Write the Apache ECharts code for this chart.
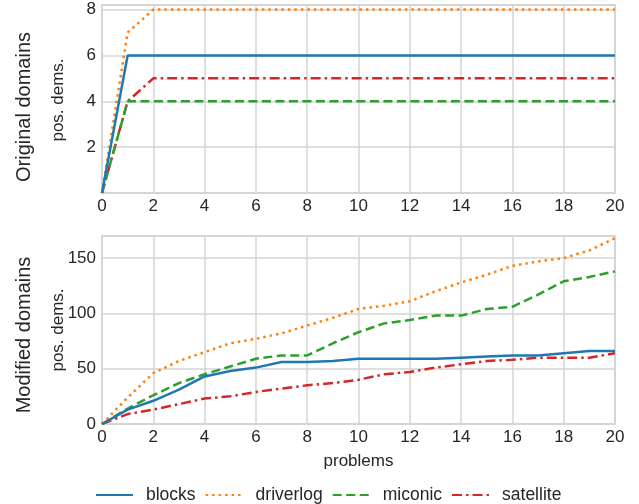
<!doctype html>
<html>
<head>
    <meta charset="utf-8">
    <title>domains</title>
    <script src="https://cdn.jsdelivr.net/npm/echarts@6/dist/echarts.min.js"></script>
    <style>
        body{ margin:0; padding:0; background:#fff; }
        #main{ width:639px; height:504px; }
    </style>
</head>
<body>
<div id="main"></div>
<script>
    // problems 0..20
    var problems = [0,1,2,3,4,5,6,7,8,9,10,11,12,13,14,15,16,17,18,19,20];
    var names = ['blocks', 'driverlog', 'miconic', 'satellite'];

    // original domains
    var origBlocks    = [0,6,6,6,6,6,6,6,6,6,6,6,6,6,6,6,6,6,6,6,6];
    var origDriverlog = [0,7,8,8,8,8,8,8,8,8,8,8,8,8,8,8,8,8,8,8,8];
    var origMiconic   = [0,4,4,4,4,4,4,4,4,4,4,4,4,4,4,4,4,4,4,4,4];
    var origSatellite = [0,4,5,5,5,5,5,5,5,5,5,5,5,5,5,5,5,5,5,5,5];

    // modified domains
    var modBlocks    = [0,13,21,31,43,48,51,56,56,57,59,59,59,59,60,61,62,62,64,66,66];
    var modDriverlog = [0,24,46,57,65,73,77,82,89,96,104,107,111,120,128,135,143,147,150,157,168];
    var modMiconic   = [0,14,26,37,45,52,59,62,62,73,83,91,94,98,98,104,106,117,129,133,138];
    var modSatellite = [0,9,13,18,23,25,29,32,35,37,40,45,47,51,54,57,58,60,60,60,64];

    var xTicks = [0,2,4,6,8,10,12,14,16,18,20];
    var topYTicks = [2,4,6,8];
    var botYTicks = [0,50,100,150];

    var colors = ['#1f77b4', '#ff7f0e', '#2ca02c', '#d62728'];
    var dashes = ['solid', [2.5, 4], [9, 4.5], [10, 4, 2.5, 4]];
    var textColor = '#262626';
    var gridColor = '#d4d4d4';
    var font = 'Liberation Sans, Arial, sans-serif';

    function pairs(ys){
        return problems.map(function(x, i){ return [x, ys[i]]; });
    }

    function tickFmt(list){
        return function(v){
            for (var i = 0; i < list.length; i++) {
                if (Math.abs(list[i] - v) < 1e-6) return String(list[i]);
            }
            return '';
        };
    }

    function xAxis(idx, withName){
        return {
            type: 'value', gridIndex: idx, min: 0, max: 20, interval: 2,
            name: withName ? 'problems' : '',
            nameLocation: 'middle', nameGap: 29,
            nameTextStyle: { color: textColor, fontSize: 17, fontFamily: font },
            axisLine: { show: false }, axisTick: { show: false },
            axisLabel: { color: textColor, fontSize: 17, fontFamily: font, margin: 5, formatter: tickFmt(xTicks) },
            splitLine: { show: true, lineStyle: { color: gridColor, width: 1.5 } }
        };
    }

    function yAxis(idx, max, interval, ticks){
        return {
            type: 'value', gridIndex: idx, min: 0, max: max, interval: interval,
            axisLine: { show: false }, axisTick: { show: false },
            axisLabel: { color: textColor, fontSize: 17, fontFamily: font, margin: 6, formatter: tickFmt(ticks),
                showMaxLabel: true, showMinLabel: true },
            splitLine: { show: true, lineStyle: { color: gridColor, width: 1.5 } }
        };
    }

    var seriesData = [
        [origBlocks, origDriverlog, origMiconic, origSatellite],
        [modBlocks, modDriverlog, modMiconic, modSatellite]
    ];
    var series = [];
    for (var g = 0; g < 2; g++) {
        for (var s = 0; s < 4; s++) {
            series.push({
                name: names[s], type: 'line', xAxisIndex: g, yAxisIndex: g,
                data: pairs(seriesData[g][s]),
                symbol: 'none', animation: false, z: 10 - s,
                lineStyle: { color: colors[s], width: 2.5, type: dashes[s], cap: 'butt' },
                itemStyle: { color: colors[s] }
            });
        }
    }

    function vText(txt, x, y, size){
        return {
            type: 'text', x: x, y: y, rotation: Math.PI / 2,
            style: { text: txt, fill: textColor, fontSize: size, fontFamily: font,
                align: 'center', verticalAlign: 'middle' }
        };
    }

    var chart = echarts.init(document.getElementById('main'));
    chart.setOption({
        animation: false,
        grid: [
            { left: 102, top: 5, width: 513, height: 188, show: true, borderColor: '#cccccc', borderWidth: 1.5 },
            { left: 102, top: 236, width: 513, height: 188, show: true, borderColor: '#cccccc', borderWidth: 1.5 }
        ],
        xAxis: [xAxis(0, false), xAxis(1, true)],
        yAxis: [yAxis(0, 8.2, 2, topYTicks), yAxis(1, 170, 50, botYTicks)],
        legend: {
            data: names, top: 481, left: 90,
            itemWidth: 37, itemHeight: 14, itemGap: 9,
            itemStyle: { opacity: 0 },
            textStyle: { color: textColor, fontSize: 17.5, fontFamily: font, padding: [0, 0, 0, 8] }
        },
        graphic: [
            vText('Original domains', 24, 107, 20),
            vText('pos. dems.', 58, 100, 17),
            vText('Modified domains', 24, 335, 20),
            vText('pos. dems.', 58, 330, 17)
        ],
        series: series
    });
</script>
</body>
</html>
